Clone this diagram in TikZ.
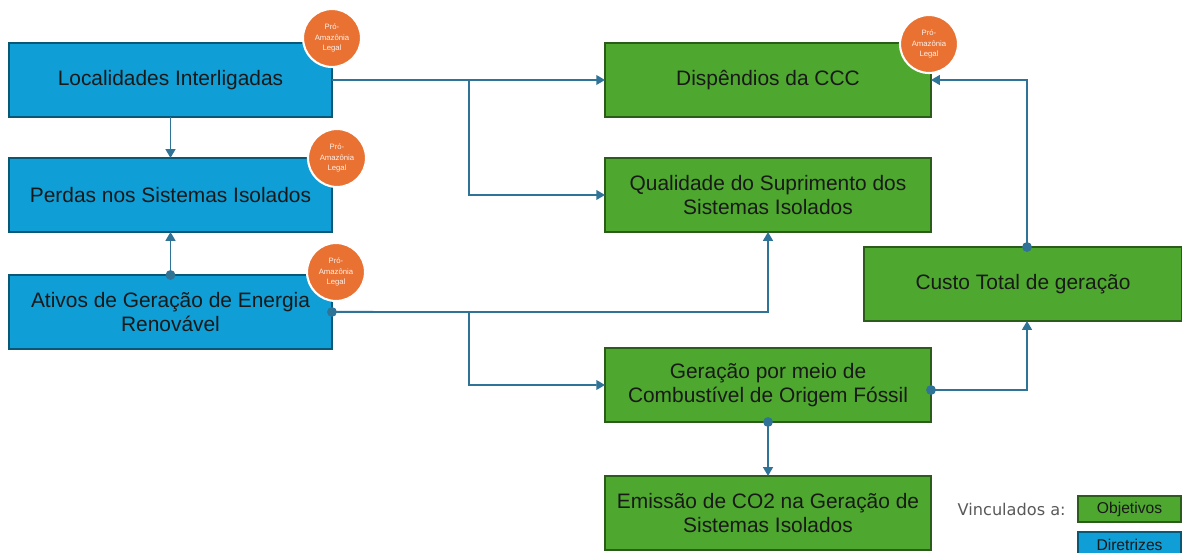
\documentclass[tikz,border=0pt]{standalone}
\usepackage{fontspec}
\setmainfont{Liberation Sans}
\newfontfamily\legendfont{DejaVu Sans}
\usetikzlibrary{arrows,arrows.meta,positioning}

\definecolor{boxblue}{HTML}{0F9ED5}
\definecolor{boxgreen}{HTML}{4EA72E}
\definecolor{seloorange}{HTML}{E97132}
\definecolor{linkblue}{HTML}{2F7396}

\begin{document}
\begin{tikzpicture}[
        x=0.02cm,
        y=-0.02cm,
        >={Stealth[length=5pt,width=5.5pt,inset=0pt]}, % arrow head style
        auto]

        \tikzstyle{base}=[
            line width=0.9pt,
            minimum height = 1.48cm,
            inner sep = 0pt,
            outer sep = 0pt,
            align = center,
            text = black!90,
            font = \fontsize{11.9}{13.6}\selectfont
        ]
        \tikzset{diretriz/.style={base, draw = boxblue!55!black, fill = boxblue, minimum width = 6.46cm}}
        \tikzset{objetivo/.style={base, draw = boxgreen!55!black, fill = boxgreen, minimum width = 6.52cm}}
        \tikzset{selo/.style={circle, fill = seloorange, draw = white, line width=1.2pt, minimum size = 1.16cm,
            inner sep = 0pt, align = center, text = white!90!seloorange, font = \fontsize{4.4}{6.2}\selectfont}}
        \tikzset{link/.style={draw = linkblue, line width=1.1pt, ->}}
        \tikzset{dotlink/.style={link, {Circle[length=5.5pt,width=5.5pt]}->, shorten <=-2.75pt}}
        \tikzset{chave/.style={line width=0.9pt, minimum width = 2.06cm, minimum height = 0.52cm, inner sep = 0pt,
            outer sep = 0pt, text = black!90, font = \fontsize{8.9}{10}\selectfont}}

        \useasboundingbox (0,0) rectangle (1182,553);

        % diretrizes
        \node[diretriz] (loc) at (170.5,80) {Localidades Interligadas};
        \node[diretriz] (per) [below=0.82cm of loc] {Perdas nos Sistemas Isolados};
        \node[diretriz] (ati) [below=0.86cm of per] {Ativos de Geração de Energia\\Renovável};

        % objetivos
        \node[objetivo] (dis) at (768,80) {Dispêndios da CCC};
        \node[objetivo] (qua) [below=0.82cm of dis] {Qualidade do Suprimento dos\\Sistemas Isolados};
        \node[objetivo] (ger) at (768,385) {Geração por meio de\\Combustível de Origem Fóssil};
        \node[objetivo] (emi) [below=1.08cm of ger] {Emissão de CO2 na Geração de\\Sistemas Isolados};
        \node[objetivo, minimum width = 6.36cm] (cus) at (1023,284) {Custo Total de geração};

        % selos
        \node[selo] (s1) at (332,38) {Pró-\\Amazônia\\Legal};
        \node[selo] (s2) at (337,158) {Pró-\\Amazônia\\Legal};
        \node[selo] (s3) at (336,272) {Pró-\\Amazônia\\Legal};
        \node[selo] (s4) at (929,44) {Pró-\\Amazônia\\Legal};

        % legenda
        \node[chave, draw = boxgreen!55!black, fill = boxgreen] (kobj) at (1129.5,509) {Objetivos};
        \node[chave, draw = boxblue!55!black, fill = boxblue] (kdir) [below=0.2cm of kobj] {Diretrizes};
        \node[text = black!65, inner sep = 0pt, font = \legendfont\fontsize{9.2}{10}\selectfont, left=0.24cm of kobj] (kvin) {Vinculados a:};

        % pontos de desvio
        \coordinate (j1) at (469,80);
        \coordinate (j2) at (469,312);
        \coordinate (g1) at (931,390);
        \coordinate (c1) at (1027,321);
        \coordinate (c2) at (1027,247);

        \draw[link] (loc) -- (per);
        \draw[link] (loc.east) -- (dis.west);
        \draw[link] (j1) |- (qua.west);
        \draw[dotlink] (ati.north) -- (per.south);
        \draw[dotlink] (ati.east) -| (qua.south);
        \draw[link] (ati.east) -- (j2) |- (ger.west);
        \draw[dotlink] (g1) -| (c1);
        \draw[dotlink] (c2) |- (dis.east);
        \draw[dotlink] (ger.south) -- (emi.north);
    \end{tikzpicture}
\end{document}
